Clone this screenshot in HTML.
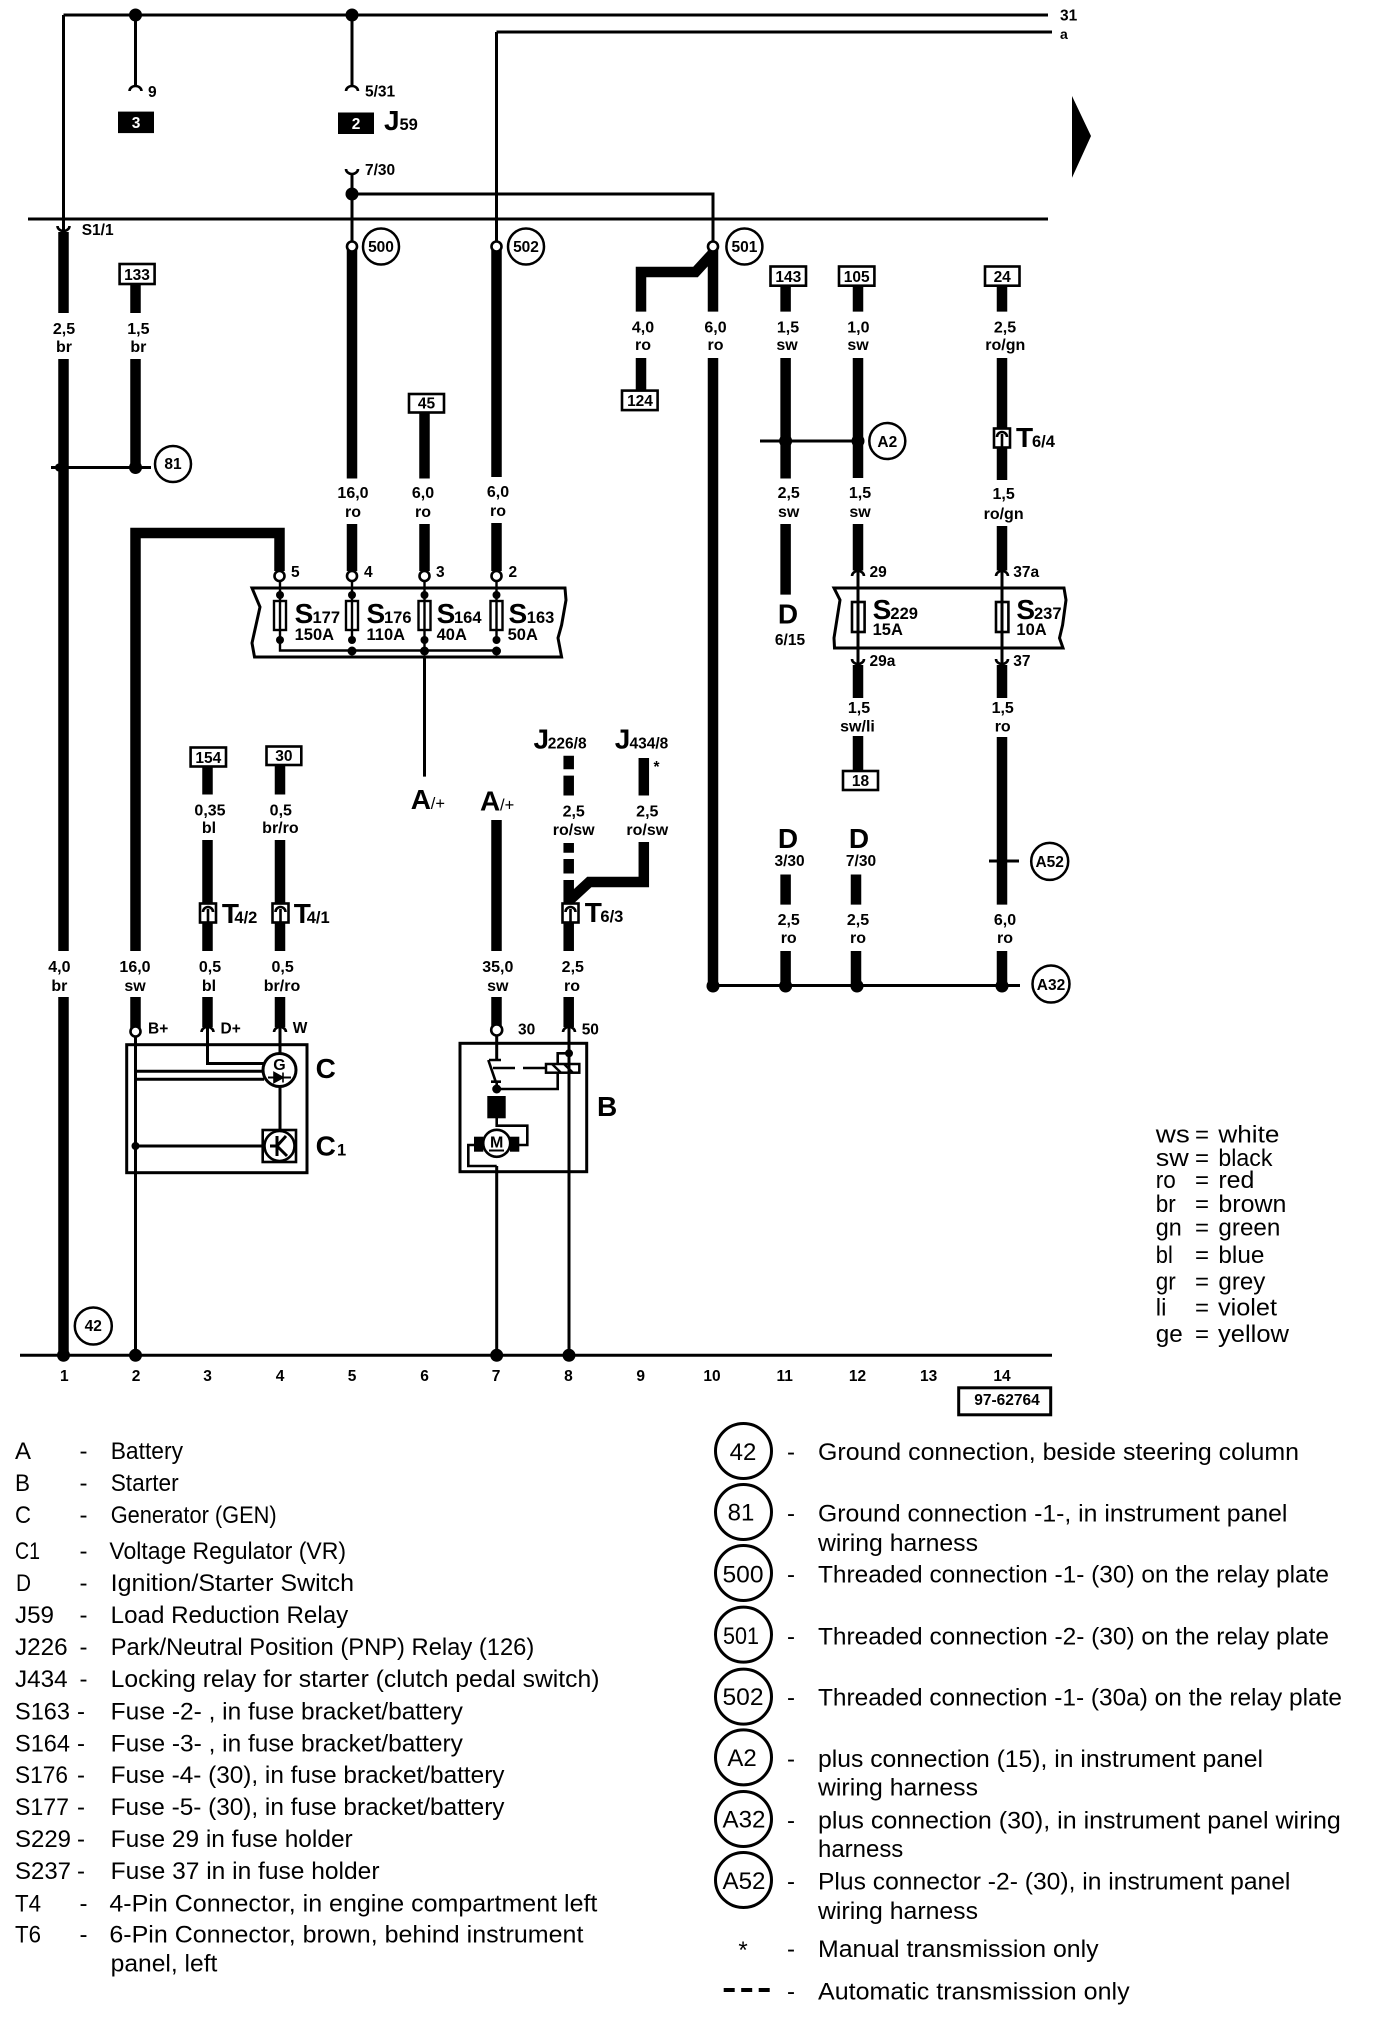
<!DOCTYPE html>
<html><head><meta charset="utf-8"><title>Wiring diagram</title>
<style>
html,body{margin:0;padding:0;background:#fff}
svg{display:block}
text{font-family:"Liberation Sans",sans-serif;fill:#000}
.l{font-weight:bold;font-size:16px;text-anchor:middle}
.n{font-weight:bold;font-size:15.5px}
.c{font-weight:bold;font-size:15.5px;text-anchor:middle}
.B{font-weight:bold;font-size:28px}
.s{font-weight:bold;font-size:16.5px}
.g{font-size:24px}
.m{font-size:24px;text-anchor:middle}
.w{stroke:#000;stroke-width:10.5;fill:none}
.t{stroke:#000;stroke-width:3;fill:none}
.h{stroke:#000;stroke-width:2.5;fill:none}
.r{stroke:#000;stroke-width:2.6;fill:#fff}
.o{stroke:#000;stroke-width:2.6;fill:#fff}
</style></head><body>
<svg xmlns="http://www.w3.org/2000/svg" width="1376" height="2036" viewBox="0 0 1376 2036">
<defs>
<g id="tc"><rect x="-8" y="-9.5" width="16" height="19" fill="#fff" stroke="#000" stroke-width="2.6"/><path d="M0 9V-4M-5-1A5 5 0 0 1 5-1" fill="none" stroke="#000" stroke-width="2.6"/></g>
<path id="au" d="M-6 3A6 5 0 0 1 6 3" fill="none" stroke="#000" stroke-width="2.6"/>
<path id="ad" d="M-6-3A6 5 0 0 0 6-3" fill="none" stroke="#000" stroke-width="2.6"/>
</defs>

<!-- thin wires -->
<path class="t" d="M63.5 15V231M63.5 15H1048M496.5 32H1052V32M496.5 32V246M352 15V86M135.5 15V86M352 175V246M352 194H713V246M28 219H1048M51 467.5H151M135.5 1030V1355M207.5 1027V1063.5H266M280 1027V1056M280 1086V1130M424.5 657V776.6M496.7 1030V1060M496.7 1166V1355M569 1027V1355M20 1355.3H1052M713 985.5H1020M760 441H858M989 861H1019M858 572V664M1002 572V664"/>

<!-- thick wires -->
<path class="w" d="M63.5 232V313M63.5 359V951M63.5 997V1355M135.5 284V313M135.5 359V467M135.5 951V533H279.5V571M135.5 997V1028M207.5 766V794.5M207.5 840V951M207.5 997V1027M280 765V794.5M280 840V951M280 997V1027M352 250V478.5M352 524V571M424.5 412V478.5M424.5 524V571M496.5 250V477M496.5 523V571M496.5 820V951M496.5 997V1027M568.7 755.7V769.3M568.7 775.6V795.5M568.7 843V852.7M568.7 859V873.5M568.7 880V951M568.7 997V1027M641 311.6V272H695.5L713 253M641 358V390.6M643.8 758V795.5M643.8 842V882H589.3L568.7 901M713 250V311.6M713 358V986M785.6 286V311.6M785.6 358V478.5M785.6 524V594.6M785.6 874.5V904.6M785.6 951V986M858 286V311.6M858 358V478M858 524V570.5M858 665V698M858 736V771M856 874.5V904.6M856 951V986M1002 286V311.6M1002 358V480M1002 526V570.5M1002 665V698M1002 737V904.6M1002 951V986"/>

<!-- junction dots -->
<g fill="#000">
<circle cx="135.5" cy="15" r="6.5"/><circle cx="352" cy="15" r="6.5"/><circle cx="352" cy="194" r="6.5"/>
<circle cx="135.5" cy="467.5" r="6.5"/><circle cx="59" cy="467.5" r="4"/>
<circle cx="785.6" cy="441" r="6.5"/><circle cx="858" cy="441" r="6.5"/><circle cx="1002" cy="861" r="5"/>
<circle cx="713" cy="986" r="6.5"/><circle cx="785.6" cy="986" r="6.5"/><circle cx="857" cy="986" r="6.5"/><circle cx="1002" cy="986" r="6.5"/>
<circle cx="63.5" cy="1355.3" r="6.5"/><circle cx="135.5" cy="1355.3" r="6.5"/><circle cx="496.7" cy="1355.3" r="6.5"/><circle cx="569" cy="1355.3" r="6.5"/>
<path d="M1072 96L1091 136L1072 177.7Z"/>
</g>

<!-- arcs -->
<use href="#au" x="135.5" y="88"/><use href="#au" x="352" y="88"/><use href="#ad" x="352" y="172"/><use href="#ad" x="63.5" y="229"/>
<use href="#au" x="207.5" y="1029"/><use href="#au" x="280" y="1029"/><use href="#au" x="569" y="1029"/>
<use href="#au" x="858" y="573"/><use href="#au" x="1002" y="573"/><use href="#ad" x="858" y="662"/><use href="#ad" x="1002" y="662"/>

<!-- open terminals -->
<g class="o"><circle cx="352" cy="246.5" r="5"/><circle cx="496.5" cy="246.5" r="5"/><circle cx="713" cy="246.5" r="5"/>
<circle cx="279.5" cy="576" r="5"/><circle cx="352" cy="576" r="5"/><circle cx="424.5" cy="576" r="5"/><circle cx="496.5" cy="576" r="5"/>
<circle cx="135.5" cy="1031.5" r="5"/><circle cx="496.7" cy="1030" r="5.5"/></g>

<!-- top labels -->
<text class="n" x="1060" y="20.5">31</text><text class="n" x="1060" y="39" style="font-size:14px">a</text>
<text class="n" x="148" y="97">9</text><text class="n" x="365" y="96.5">5/31</text><text class="n" x="365" y="175">7/30</text>
<text class="n" x="81.7" y="235" style="font-weight:bold">S1/1</text>
<rect x="118" y="111.6" width="36" height="21.5" fill="#000"/><text class="c" x="136" y="128" style="fill:#fff">3</text>
<rect x="338" y="112.5" width="36" height="21.5" fill="#000"/><text class="c" x="356" y="129" style="fill:#fff">2</text>
<text class="B" x="384" y="130">J</text><text class="s" x="399.5" y="130">59</text>

<!-- ref circles -->
<g class="h">
<circle cx="381" cy="246.5" r="18"/><circle cx="526" cy="246.5" r="18"/><circle cx="744.4" cy="246.5" r="18"/>
<circle cx="173" cy="464" r="18"/><circle cx="887.3" cy="441" r="18"/><circle cx="1049.7" cy="861.4" r="18.5"/><circle cx="1051" cy="984" r="18.5"/><circle cx="93.3" cy="1326" r="18.5"/>
</g>
<g class="c">
<text class="c" x="381" y="252">500</text><text class="c" x="526" y="252">502</text><text class="c" x="744.4" y="252">501</text>
<text class="c" x="173" y="469">81</text><text class="c" x="887.3" y="447">A2</text><text class="c" x="1049.7" y="867">A52</text><text class="c" x="1051" y="990">A32</text><text class="c" x="93.3" y="1331">42</text>
</g>

<!-- numbered boxes -->
<g class="r">
<rect x="119.6" y="264" width="35" height="20"/><rect x="409" y="394" width="35" height="18.5"/><rect x="622" y="390.6" width="35.6" height="19.5"/>
<rect x="770.5" y="266.5" width="35.5" height="19.2"/><rect x="839" y="266.5" width="35.4" height="19.2"/><rect x="985" y="266.5" width="34.5" height="19.2"/>
<rect x="843" y="771" width="35" height="19"/><rect x="190.6" y="747.5" width="35.4" height="19"/><rect x="266.5" y="746.5" width="34.8" height="18.5"/>
<rect x="958.7" y="1387.8" width="92" height="27" style="stroke-width:3"/>
</g>
<text class="c" x="137" y="280">133</text><text class="c" x="426.5" y="408.5">45</text><text class="c" x="640" y="406">124</text>
<text class="c" x="788.3" y="282">143</text><text class="c" x="856.7" y="282">105</text><text class="c" x="1002.2" y="282">24</text>
<text class="c" x="860.5" y="786">18</text><text class="c" x="208.3" y="763">154</text><text class="c" x="283.9" y="761">30</text>
<text class="c" x="1007" y="1405">97-62764</text>

<!-- wire labels -->
<g>
<text class="l" x="64" y="334">2,5</text><text class="l" x="64" y="352">br</text>
<text class="l" x="138.4" y="334">1,5</text><text class="l" x="138.4" y="352">br</text>
<text class="l" x="353" y="498">16,0</text><text class="l" x="353" y="517">ro</text>
<text class="l" x="423" y="498">6,0</text><text class="l" x="423" y="517">ro</text>
<text class="l" x="498" y="497">6,0</text><text class="l" x="498" y="516">ro</text>
<text class="l" x="643" y="332.6">4,0</text><text class="l" x="643" y="350">ro</text>
<text class="l" x="715.5" y="332.6">6,0</text><text class="l" x="715.5" y="350">ro</text>
<text class="l" x="788" y="332.6">1,5</text><text class="l" x="787" y="350">sw</text>
<text class="l" x="858.4" y="332.6">1,0</text><text class="l" x="858" y="350">sw</text>
<text class="l" x="1005" y="332.6">2,5</text><text class="l" x="1005.3" y="350">ro/gn</text>
<text class="l" x="788.7" y="498">2,5</text><text class="l" x="788.7" y="517">sw</text>
<text class="l" x="860" y="498">1,5</text><text class="l" x="860" y="517">sw</text>
<text class="l" x="1003.6" y="499">1,5</text><text class="l" x="1003.6" y="519">ro/gn</text>
<text class="l" x="859" y="713">1,5</text><text class="l" x="857.5" y="731.5">sw/li</text>
<text class="l" x="1002.7" y="713">1,5</text><text class="l" x="1002.7" y="731.5">ro</text>
<text class="l" x="788.7" y="925">2,5</text><text class="l" x="788.7" y="943">ro</text>
<text class="l" x="858" y="925">2,5</text><text class="l" x="858" y="943">ro</text>
<text class="l" x="1005" y="925">6,0</text><text class="l" x="1005" y="943">ro</text>
<text class="l" x="210" y="815.4">0,35</text><text class="l" x="209" y="832.8">bl</text>
<text class="l" x="280.8" y="815.4">0,5</text><text class="l" x="280.4" y="832.8">br/ro</text>
<text class="l" x="573.7" y="816.3">2,5</text><text class="l" x="573.7" y="834.8">ro/sw</text>
<text class="l" x="647.3" y="816.3">2,5</text><text class="l" x="647.3" y="834.8">ro/sw</text>
<text class="l" x="59.4" y="972">4,0</text><text class="l" x="59.4" y="991">br</text>
<text class="l" x="135" y="972">16,0</text><text class="l" x="135" y="991">sw</text>
<text class="l" x="210" y="972">0,5</text><text class="l" x="209" y="991">bl</text>
<text class="l" x="282.6" y="972">0,5</text><text class="l" x="282" y="991">br/ro</text>
<text class="l" x="497.8" y="972">35,0</text><text class="l" x="497.8" y="991">sw</text>
<text class="l" x="572.8" y="972">2,5</text><text class="l" x="572" y="991">ro</text>
</g>

<!-- terminal numbers -->
<text class="n" x="291" y="577">5</text><text class="n" x="364" y="577">4</text><text class="n" x="436" y="577">3</text><text class="n" x="508.5" y="577">2</text>
<text class="n" x="869.5" y="577">29</text><text class="n" x="1013.3" y="577">37a</text><text class="n" x="869.5" y="666">29a</text><text class="n" x="1013.3" y="666">37</text>
<text class="n" x="148" y="1033.5">B+</text><text class="n" x="220.5" y="1033.5">D+</text><text class="n" x="292.8" y="1033">W</text>
<text class="n" x="518" y="1034.5">30</text><text class="n" x="581.7" y="1034.5">50</text>

<!-- fuse block 1 -->
<path class="h" style="stroke-width:3" d="M252 588H565L566 600L561.6 625L558 638L561.6 657H254.5L252 643L254 634L260 607Z" fill="none"/>
<path class="t" style="stroke-width:2.4" d="M280 581V640M352 581V640M424.5 581V650M496.5 581V640M280 640V650.5H496.5"/>
<g class="r" style="stroke-width:2.4">
<rect x="274" y="601" width="12" height="29"/><rect x="346" y="601" width="12" height="29"/><rect x="418.5" y="601" width="12" height="29"/><rect x="490.5" y="601" width="12" height="29"/>
</g>
<path class="t" style="stroke-width:2.4" d="M280 601V630M352 601V630M424.5 601V630M496.5 601V630"/>
<g fill="#000"><circle cx="280" cy="595" r="4"/><circle cx="352" cy="595" r="4"/><circle cx="424.5" cy="595" r="4"/><circle cx="496.5" cy="595" r="4"/>
<circle cx="280" cy="640" r="4"/><circle cx="352" cy="640" r="4"/><circle cx="424.5" cy="640" r="4"/><circle cx="496.5" cy="640" r="4"/>
<circle cx="352" cy="651" r="4.5"/><circle cx="424.5" cy="651" r="4.5"/><circle cx="496.5" cy="651" r="4.5"/></g>
<text class="B" x="294.6" y="622.8">S</text><text class="s" x="312.5" y="622.8">177</text><text class="s" x="294.6" y="640">150A</text>
<text class="B" x="366.5" y="622.8">S</text><text class="s" x="384" y="622.8">176</text><text class="s" x="366.5" y="640">110A</text>
<text class="B" x="436.6" y="622.8">S</text><text class="s" x="454" y="622.8">164</text><text class="s" x="436.6" y="640">40A</text>
<text class="B" x="508.5" y="622.8">S</text><text class="s" x="526.8" y="622.8">163</text><text class="s" x="507.6" y="640">50A</text>

<!-- fuse block 2 -->
<path class="h" style="stroke-width:3" d="M834 588H1064L1066 600L1062.6 625L1059.5 638L1063 648H834.5L834 638L840 600Z" fill="none"/>
<g class="r" style="stroke-width:2.6"><rect x="852" y="602" width="12.6" height="30"/><rect x="996" y="602" width="12.4" height="30"/></g>
<path class="t" d="M858 602V632M1002 602V632"/>
<text class="B" x="872.6" y="619">S</text><text class="s" x="890.4" y="619">229</text><text class="s" x="872.6" y="635">15A</text>
<text class="B" x="1016.4" y="619">S</text><text class="s" x="1034" y="619">237</text><text class="s" x="1016.4" y="635">10A</text>

<!-- D labels -->
<text class="B" x="788" y="623.6" text-anchor="middle">D</text><text class="c" x="790" y="645">6/15</text>
<text class="B" x="788" y="848" text-anchor="middle">D</text><text class="c" x="789.6" y="866">3/30</text>
<text class="B" x="859" y="848" text-anchor="middle">D</text><text class="c" x="861" y="866">7/30</text>

<!-- T connectors -->
<use href="#tc" x="1002" y="438"/><use href="#tc" x="208" y="913"/><use href="#tc" x="280.5" y="913"/><use href="#tc" x="570.5" y="913"/>
<text class="B" x="1016" y="447">T</text><text class="s" x="1032" y="447">6/4</text>
<text class="B" x="221.9" y="923">T</text><text class="s" x="234.4" y="923">4/2</text>
<text class="B" x="293.8" y="923">T</text><text class="s" x="306.7" y="923">4/1</text>
<text class="B" x="584.8" y="922">T</text><text class="s" x="600.4" y="922">6/3</text>

<!-- A / J labels -->
<text class="B" x="410.7" y="809">A</text><text class="s" x="430.8" y="809" style="font-weight:normal">/+</text>
<text class="B" x="480" y="810.5">A</text><text class="s" x="500" y="810.5" style="font-weight:normal">/+</text>
<text class="B" x="533.5" y="748.5">J</text><text class="n" x="547.8" y="748.5">226/8</text>
<text class="B" x="614.7" y="748.5">J</text><text class="n" x="629.5" y="748.5">434/8</text>
<text class="c" x="656.5" y="772">*</text>

<!-- Generator block C -->
<rect class="h" x="126.7" y="1044.7" width="180.3" height="128" style="stroke-width:3"/>
<path class="t" d="M135.5 1071.3H264M135.5 1079.3H264"/>
<circle cx="279.5" cy="1070" r="16.5" class="r" style="stroke-width:3"/>
<text class="c" x="279.5" y="1070" style="font-size:16px">G</text>
<path d="M268 1077.5H291" stroke="#000" stroke-width="2"/><path d="M274 1072.5L283 1077.5L274 1082.5ZM283 1072.5V1082.5" stroke="#000" stroke-width="1.6"/>
<rect class="r" x="262.7" y="1130" width="33.3" height="32"/>
<circle cx="279.5" cy="1146" r="15" class="r" style="fill:#fff"/>
<path class="t" d="M135.5 1146H263M270 1146H277M277 1136V1156M277 1146L286 1136M277 1146L287 1156"/>
<circle cx="135.5" cy="1146" r="4" fill="#000"/>
<text class="B" x="315.6" y="1078">C</text><text class="B" x="315.6" y="1155.6">C</text><text class="s" x="337" y="1155.6">1</text>

<!-- Starter block B -->
<rect class="h" x="460" y="1043.3" width="126.7" height="128.4" style="stroke-width:3"/>
<path class="t" style="stroke-width:2.6" d="M489 1060H501M488.3 1060L495.7 1081.7M491 1081.7H501M496.7 1081.7V1089M496.7 1089H557.7V1072.7M557.7 1064V1053.3H569M493 1068H515M523 1068H546M496.7 1118V1125.7H527.3V1145H518M474 1145H468.3V1166H496.7"/>
<rect class="h" x="546" y="1064" width="33.3" height="8.7" fill="#fff"/>
<path class="h" style="stroke-width:2.4" d="M552 1064L561 1072.7M564 1064L573 1072.7"/>
<circle cx="496.7" cy="1089" r="4.5" fill="#000"/><circle cx="569" cy="1053.3" r="4" fill="#000"/>
<rect x="487.3" y="1096" width="18.4" height="22.3" fill="#000"/>
<rect x="474" y="1136.7" width="9.3" height="15" fill="#000"/><rect x="510" y="1136.7" width="9.3" height="15" fill="#000"/>
<circle cx="496.7" cy="1143.3" r="13.5" class="r"/>
<text class="c" x="496.7" y="1147.5" style="font-size:16px">M</text><path d="M489 1150.5H504" stroke="#000" stroke-width="2"/>
<text class="B" x="597" y="1116">B</text>

<!-- column numbers -->
<text class="c" x="64.3" y="1381">1</text><text class="c" x="136" y="1381">2</text><text class="c" x="207.6" y="1381">3</text><text class="c" x="280" y="1381">4</text><text class="c" x="352" y="1381">5</text><text class="c" x="424.6" y="1381">6</text><text class="c" x="496" y="1381">7</text><text class="c" x="568.4" y="1381">8</text><text class="c" x="640.7" y="1381">9</text><text class="c" x="712" y="1381">10</text><text class="c" x="784.7" y="1381">11</text><text class="c" x="857.5" y="1381">12</text><text class="c" x="928.6" y="1381">13</text><text class="c" x="1002" y="1381">14</text>

<!-- colour legend -->
<g class="g">
<text class="g" x="1155.8" y="1142.5" textLength="34" lengthAdjust="spacingAndGlyphs">ws</text><text class="g" x="1195" y="1142.5">=</text><text class="g" x="1218.4" y="1142.5" textLength="61" lengthAdjust="spacingAndGlyphs">white</text>
<text class="g" x="1155.8" y="1166" textLength="33" lengthAdjust="spacingAndGlyphs">sw</text><text class="g" x="1195" y="1166">=</text><text class="g" x="1218.4" y="1166" textLength="54" lengthAdjust="spacingAndGlyphs">black</text>
<text class="g" x="1155.8" y="1188" textLength="20" lengthAdjust="spacingAndGlyphs">ro</text><text class="g" x="1195" y="1188">=</text><text class="g" x="1218.4" y="1188" textLength="36" lengthAdjust="spacingAndGlyphs">red</text>
<text class="g" x="1155.8" y="1212" textLength="20" lengthAdjust="spacingAndGlyphs">br</text><text class="g" x="1195" y="1212">=</text><text class="g" x="1218.4" y="1212" textLength="68" lengthAdjust="spacingAndGlyphs">brown</text>
<text class="g" x="1155.8" y="1235.6" textLength="26" lengthAdjust="spacingAndGlyphs">gn</text><text class="g" x="1195" y="1235.6">=</text><text class="g" x="1218.4" y="1235.6" textLength="62" lengthAdjust="spacingAndGlyphs">green</text>
<text class="g" x="1155.8" y="1262.8" textLength="17" lengthAdjust="spacingAndGlyphs">bl</text><text class="g" x="1195" y="1262.8">=</text><text class="g" x="1218.4" y="1262.8" textLength="46" lengthAdjust="spacingAndGlyphs">blue</text>
<text class="g" x="1155.8" y="1289.4" textLength="20" lengthAdjust="spacingAndGlyphs">gr</text><text class="g" x="1195" y="1289.4">=</text><text class="g" x="1218.4" y="1289.4" textLength="47" lengthAdjust="spacingAndGlyphs">grey</text>
<text class="g" x="1155.8" y="1315.6">li</text><text class="g" x="1195" y="1315.6">=</text><text class="g" x="1218" y="1315.6" textLength="59" lengthAdjust="spacingAndGlyphs">violet</text>
<text class="g" x="1155.8" y="1342" textLength="27" lengthAdjust="spacingAndGlyphs">ge</text><text class="g" x="1195" y="1342">=</text><text class="g" x="1218" y="1342" textLength="71" lengthAdjust="spacingAndGlyphs">yellow</text>
</g>

<!-- left legend -->
<g>
<text class="g" x="15" y="1459" textLength="16" lengthAdjust="spacingAndGlyphs">A</text><text class="g" x="79.5" y="1459">-</text><text class="g" x="110.7" y="1459" textLength="72.3" lengthAdjust="spacingAndGlyphs">Battery</text>
<text class="g" x="15" y="1491" textLength="15" lengthAdjust="spacingAndGlyphs">B</text><text class="g" x="79.5" y="1491">-</text><text class="g" x="110.7" y="1491" textLength="68" lengthAdjust="spacingAndGlyphs">Starter</text>
<text class="g" x="15" y="1522.9" textLength="16" lengthAdjust="spacingAndGlyphs">C</text><text class="g" x="79.5" y="1522.9">-</text><text class="g" x="110.7" y="1522.9" textLength="166" lengthAdjust="spacingAndGlyphs">Generator (GEN)</text>
<text class="g" x="15" y="1559" textLength="25" lengthAdjust="spacingAndGlyphs">C1</text><text class="g" x="79.5" y="1559">-</text><text class="g" x="109.4" y="1559" textLength="236.6" lengthAdjust="spacingAndGlyphs">Voltage Regulator (VR)</text>
<text class="g" x="16" y="1590.9" textLength="15" lengthAdjust="spacingAndGlyphs">D</text><text class="g" x="79.5" y="1590.9">-</text><text class="g" x="110.7" y="1590.9" textLength="243.4" lengthAdjust="spacingAndGlyphs">Ignition/Starter Switch</text>
<text class="g" x="15" y="1622.8" textLength="39" lengthAdjust="spacingAndGlyphs">J59</text><text class="g" x="79.5" y="1622.8">-</text><text class="g" x="110.7" y="1622.8" textLength="237.5" lengthAdjust="spacingAndGlyphs">Load Reduction Relay</text>
<text class="g" x="15" y="1655" textLength="52.7" lengthAdjust="spacingAndGlyphs">J226</text><text class="g" x="79.5" y="1655">-</text><text class="g" x="110.7" y="1655" textLength="423.6" lengthAdjust="spacingAndGlyphs">Park/Neutral Position (PNP) Relay (126)</text>
<text class="g" x="15" y="1687" textLength="52.7" lengthAdjust="spacingAndGlyphs">J434</text><text class="g" x="79.5" y="1687">-</text><text class="g" x="110.7" y="1687" textLength="488.8" lengthAdjust="spacingAndGlyphs">Locking relay for starter (clutch pedal switch)</text>
<text class="g" x="15" y="1719.4" textLength="55" lengthAdjust="spacingAndGlyphs">S163</text><text class="g" x="77" y="1719.4">-</text><text class="g" x="110.7" y="1719.4" textLength="352.2" lengthAdjust="spacingAndGlyphs">Fuse -2- , in fuse bracket/battery</text>
<text class="g" x="15" y="1751.3" textLength="55" lengthAdjust="spacingAndGlyphs">S164</text><text class="g" x="77" y="1751.3">-</text><text class="g" x="110.7" y="1751.3" textLength="352.2" lengthAdjust="spacingAndGlyphs">Fuse -3- , in fuse bracket/battery</text>
<text class="g" x="15" y="1783.2" textLength="53" lengthAdjust="spacingAndGlyphs">S176</text><text class="g" x="77" y="1783.2">-</text><text class="g" x="110.7" y="1783.2" textLength="393.8" lengthAdjust="spacingAndGlyphs">Fuse -4- (30), in fuse bracket/battery</text>
<text class="g" x="15" y="1815" textLength="54" lengthAdjust="spacingAndGlyphs">S177</text><text class="g" x="77" y="1815">-</text><text class="g" x="110.7" y="1815" textLength="393.8" lengthAdjust="spacingAndGlyphs">Fuse -5- (30), in fuse bracket/battery</text>
<text class="g" x="15" y="1847" textLength="56" lengthAdjust="spacingAndGlyphs">S229</text><text class="g" x="77" y="1847">-</text><text class="g" x="110.7" y="1847" textLength="242" lengthAdjust="spacingAndGlyphs">Fuse 29 in fuse holder</text>
<text class="g" x="15" y="1879" textLength="56" lengthAdjust="spacingAndGlyphs">S237</text><text class="g" x="77" y="1879">-</text><text class="g" x="110.7" y="1879" textLength="268.8" lengthAdjust="spacingAndGlyphs">Fuse 37 in in fuse holder</text>
<text class="g" x="15" y="1911.3" textLength="26" lengthAdjust="spacingAndGlyphs">T4</text><text class="g" x="79.5" y="1911.3">-</text><text class="g" x="109.4" y="1911.3" textLength="488" lengthAdjust="spacingAndGlyphs">4-Pin Connector, in engine compartment left</text>
<text class="g" x="15" y="1942.5" textLength="26" lengthAdjust="spacingAndGlyphs">T6</text><text class="g" x="79.5" y="1942.5">-</text><text class="g" x="109.4" y="1942.5" textLength="474" lengthAdjust="spacingAndGlyphs">6-Pin Connector, brown, behind instrument</text>
<text class="g" x="110.7" y="1971.4" textLength="106.7" lengthAdjust="spacingAndGlyphs">panel, left</text>
</g>

<!-- right legend -->
<g class="h" style="stroke-width:3">
<ellipse cx="743.5" cy="1451" rx="28" ry="27.5"/><ellipse cx="743.5" cy="1512" rx="28" ry="27.5"/><ellipse cx="743.5" cy="1573" rx="28" ry="27.5"/><ellipse cx="743.5" cy="1634.6" rx="28" ry="27.5"/><ellipse cx="743.5" cy="1696.6" rx="28" ry="27.5"/><ellipse cx="743.5" cy="1757.4" rx="28" ry="27.5"/><ellipse cx="743.5" cy="1819" rx="28" ry="27.5"/><ellipse cx="743.5" cy="1880" rx="28" ry="27.5"/>
</g>
<text class="m" x="743" y="1459.8">42</text><text class="m" x="741" y="1520.6">81</text><text class="m" x="743" y="1582.5" textLength="41" lengthAdjust="spacingAndGlyphs">500</text><text class="m" x="741" y="1644" textLength="36" lengthAdjust="spacingAndGlyphs">501</text><text class="m" x="743" y="1705" textLength="41" lengthAdjust="spacingAndGlyphs">502</text><text class="m" x="742" y="1766">A2</text><text class="m" x="744" y="1827.7" textLength="43" lengthAdjust="spacingAndGlyphs">A32</text><text class="m" x="744" y="1889" textLength="43" lengthAdjust="spacingAndGlyphs">A52</text>
<text class="m" x="743" y="1958">*</text>
<path d="M723.7 1990H771" stroke="#000" stroke-width="4" stroke-dasharray="11 6.5"/>
<g>
<text class="g" x="787" y="1459.8">-</text><text class="g" x="818" y="1459.8" textLength="481" lengthAdjust="spacingAndGlyphs">Ground connection, beside steering column</text>
<text class="g" x="787" y="1521.7">-</text><text class="g" x="818" y="1521.7" textLength="469.4" lengthAdjust="spacingAndGlyphs">Ground connection -1-, in instrument panel</text>
<text class="g" x="818" y="1551" textLength="160" lengthAdjust="spacingAndGlyphs">wiring harness</text>
<text class="g" x="787" y="1582.5">-</text><text class="g" x="818" y="1582.5" textLength="511" lengthAdjust="spacingAndGlyphs">Threaded connection -1- (30) on the relay plate</text>
<text class="g" x="787" y="1644.5">-</text><text class="g" x="818" y="1644.5" textLength="511" lengthAdjust="spacingAndGlyphs">Threaded connection -2- (30) on the relay plate</text>
<text class="g" x="787" y="1705.7">-</text><text class="g" x="818" y="1705.7" textLength="524" lengthAdjust="spacingAndGlyphs">Threaded connection -1- (30a) on the relay plate</text>
<text class="g" x="787" y="1767">-</text><text class="g" x="818" y="1767" textLength="445" lengthAdjust="spacingAndGlyphs">plus connection (15), in instrument panel</text>
<text class="g" x="818" y="1795.4" textLength="160" lengthAdjust="spacingAndGlyphs">wiring harness</text>
<text class="g" x="787" y="1828.4">-</text><text class="g" x="818" y="1828.4" textLength="522.8" lengthAdjust="spacingAndGlyphs">plus connection (30), in instrument panel wiring</text>
<text class="g" x="818" y="1857" textLength="85.3" lengthAdjust="spacingAndGlyphs">harness</text>
<text class="g" x="787" y="1889.6">-</text><text class="g" x="818" y="1889.6" textLength="472.4" lengthAdjust="spacingAndGlyphs">Plus connector -2- (30), in instrument panel</text>
<text class="g" x="818" y="1919" textLength="160" lengthAdjust="spacingAndGlyphs">wiring harness</text>
<text class="g" x="787" y="1957">-</text><text class="g" x="818" y="1957" textLength="280.6" lengthAdjust="spacingAndGlyphs">Manual transmission only</text>
<text class="g" x="787" y="1999.5">-</text><text class="g" x="818" y="1999.5" textLength="311.6" lengthAdjust="spacingAndGlyphs">Automatic transmission only</text>
</g>
</svg>
</body></html>
